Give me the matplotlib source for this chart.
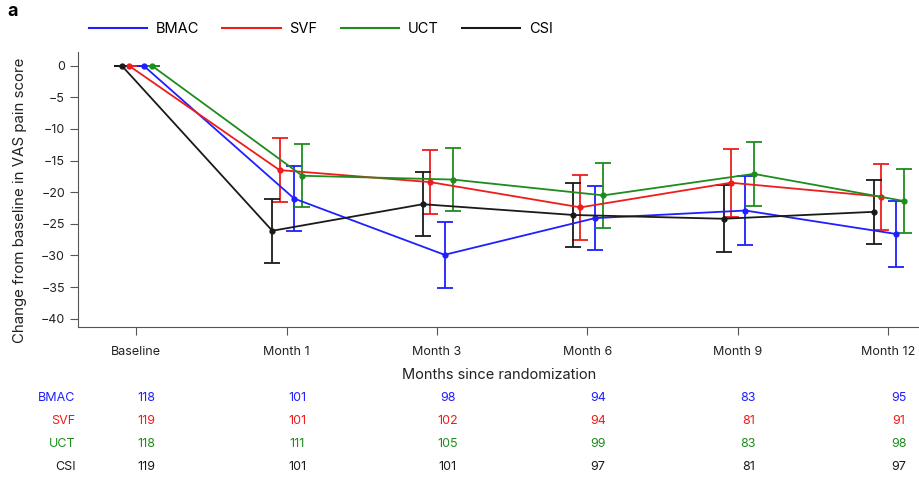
import numpy as np
import matplotlib.pyplot as plt
import matplotlib.transforms as mtransforms
from matplotlib.lines import Line2D

plt.rcParams['font.family'] = ['Inter', 'DejaVu Sans']

# Data
timepoints = ['Baseline', 'Month 1', 'Month 3', 'Month 6', 'Month 9', 'Month 12']
groups = ['BMAC', 'SVF', 'UCT', 'CSI']
colors = ['#1f1fff', '#ee1c1c', '#1e8c1e', '#1a1a1a']

bmac_mean = [0, -21.0, -29.9, -24.1, -22.9, -26.6]
svf_mean = [0, -16.5, -18.4, -22.4, -18.5, -20.7]
uct_mean = [0, -17.4, -18.0, -20.5, -17.1, -21.4]
csi_mean = [0, -26.1, -21.9, -23.6, -24.2, -23.1]

bmac_ci = [0, 5.2, 5.2, 5.1, 5.4, 5.2]
svf_ci = [0, 5.1, 5.1, 5.1, 5.4, 5.2]
uct_ci = [0, 5.0, 5.0, 5.1, 5.1, 5.1]
csi_ci = [0, 5.1, 5.1, 5.1, 5.3, 5.1]

bmac_n = [118, 101, 98, 94, 83, 95]
svf_n = [119, 101, 102, 94, 81, 91]
uct_n = [118, 111, 105, 99, 83, 98]
csi_n = [119, 101, 101, 97, 81, 97]

means = [bmac_mean, svf_mean, uct_mean, csi_mean]
cis = [bmac_ci, svf_ci, uct_ci, csi_ci]
counts = [bmac_n, svf_n, uct_n, csi_n]
offsets = [0.05, -0.047, 0.105, -0.095]

fig = plt.figure(figsize=(9.2, 4.8), dpi=100)
ax = fig.add_axes([0.085, 0.319, 0.915, 0.573])

x = np.arange(len(timepoints))
for name, m, ci, c, off in zip(groups, means, cis, colors, offsets):
    ax.errorbar(x + off, m, yerr=ci, color=c, lw=1.3, marker='o', ms=3.5,
                capsize=5.5, capthick=1.3, elinewidth=1.3, label=name)

ax.set_xlim(-0.385, 5.21)
ax.set_ylim(-41.3, 2.2)
ax.set_yticks(np.arange(0, -45, -5))
ax.set_xticks(x)
ax.set_xticklabels(timepoints)
ax.tick_params(axis='both', colors='#555555', labelcolor='#222222', labelsize=9, length=6, width=0.8)
ax.tick_params(axis='x', pad=8)
for s in ['top', 'right']:
    ax.spines[s].set_visible(False)
for s in ['left', 'bottom']:
    ax.spines[s].set_color('#555555')
    ax.spines[s].set_linewidth(0.8)

ax.set_xlabel('Months since randomization', fontsize=10.5, color='#222222', labelpad=7)
ax.set_ylabel('Change from baseline in VAS pain score', fontsize=10.8, color='#222222')
ax.yaxis.set_label_coords(-0.061, 0.46)

handles = [Line2D([], [], color=c, lw=1.5) for c in colors]
fig.legend(handles, groups, loc='center left', bbox_to_anchor=(0.082, 0.94), ncol=4,
           frameon=False, fontsize=10.5, handlelength=4.0, columnspacing=1.6, handletextpad=0.6)

fig.text(0.008, 0.975, 'a', fontsize=13, fontweight='bold', va='center')

# number-at-risk table
trans = mtransforms.blended_transform_factory(ax.transData, fig.transFigure)
row_y = [0.171, 0.123, 0.075, 0.027]
for name, n, c, yy in zip(groups, counts, colors, row_y):
    fig.text(0.082, yy, name, color=c, fontsize=9, ha='right', va='center')
    for xi, v in zip(x, n):
        ax.text(xi + 0.07, yy, str(v), color=c, fontsize=9, ha='center', va='center',
                transform=trans)

fig.savefig('out.png', dpi=100)
